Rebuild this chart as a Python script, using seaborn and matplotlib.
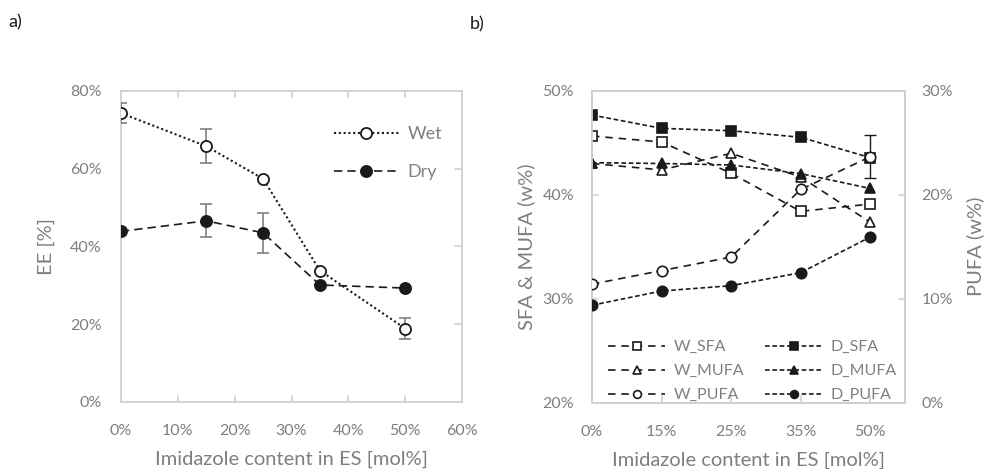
import numpy as np
import matplotlib
matplotlib.use("Agg")
import matplotlib.pyplot as plt
from matplotlib.ticker import PercentFormatter
import seaborn as sns

# ---- data ----
# panel a: encapsulation efficiency vs imidazole content
imidazole = [0.0, 0.15, 0.25, 0.35, 0.50]
ee_wet = [0.743, 0.658, 0.574, 0.338, 0.189]
ee_wet_err = [0.025, 0.043, 0.0, 0.0, 0.028]
ee_dry = [0.439, 0.466, 0.435, 0.301, 0.293]
ee_dry_err = [0.0, 0.042, 0.052, 0.0, 0.0]

# panel b: fatty acid profile, category axis
cats = ["0%", "15%", "25%", "35%", "50%"]
w_sfa = [0.4564, 0.4507, 0.4206, 0.3840, 0.3910]
d_sfa = [0.4766, 0.4638, 0.4615, 0.4552, 0.4356]
w_mufa = [0.4300, 0.4238, 0.4398, 0.4170, 0.3735]
d_mufa = [0.4308, 0.4300, 0.4286, 0.4203, 0.4060]
w_pufa = [0.114, 0.127, 0.140, 0.205, 0.2365]
w_pufa_err = [0.0, 0.0, 0.0, 0.0, 0.0205]
d_pufa = [0.0937, 0.1074, 0.1125, 0.125, 0.1593]

grey = "#7f7f7f"
spine = "#d0d0d0"
ink = "#1a1a1a"

sns.set_style("white")
plt.rcParams["font.family"] = ["Lato", "DejaVu Sans"]

fig = plt.figure(figsize=(9.87, 4.69), dpi=100)
ax1 = fig.add_axes([0.1226, 0.1429, 0.3455, 0.6631])
ax2 = fig.add_axes([0.5998, 0.1414, 0.3171, 0.6652])
ax3 = ax2.twinx()


def style_axes(ax):
    for s in ax.spines.values():
        s.set_color(spine)
        s.set_linewidth(1.3)
    ax.tick_params(colors=grey, labelsize=11.5, length=0)


# ---- panel a ----
style_axes(ax1)
sns.lineplot(x=imidazole, y=ee_wet, ax=ax1, color=ink, linestyle=(0, (1, 1.3)), lw=1.5,
             marker="o", markersize=8, markerfacecolor="white", markeredgecolor=ink,
             markeredgewidth=1.3, label="Wet", zorder=4)
sns.lineplot(x=imidazole, y=ee_dry, ax=ax1, color=ink, linestyle=(0, (5, 3)), lw=1.2,
             marker="o", markersize=8, markerfacecolor=ink, markeredgecolor=ink,
             markeredgewidth=1.3, label="Dry", zorder=4)
for ys, es in [(ee_wet, ee_wet_err), (ee_dry, ee_dry_err)]:
    ax1.errorbar(imidazole, ys, yerr=es, fmt="none", ecolor=grey, elinewidth=1.2,
                 capsize=4, capthick=1.2, zorder=3)
ax1.set_xlim(0, 0.6)
ax1.set_ylim(0, 0.8)
ax1.set_xticks(np.arange(0, 0.61, 0.1))
ax1.set_yticks(np.arange(0, 0.81, 0.2))
ax1.xaxis.set_major_formatter(PercentFormatter(1.0, decimals=0))
ax1.yaxis.set_major_formatter(PercentFormatter(1.0, decimals=0))
ax1.tick_params(axis="x", pad=16)
ax1.tick_params(axis="y", pad=14)
# inner tick marks like the spreadsheet original
for xv in np.arange(0.1, 0.51, 0.1):
    ax1.plot([xv, xv], [0, 0.016], color=spine, lw=1.2, zorder=1)
    ax1.plot([xv, xv], [0.8, 0.784], color=spine, lw=1.2, zorder=1)
for yv in np.arange(0.2, 0.61, 0.2):
    ax1.plot([0.588, 0.6], [yv, yv], color=spine, lw=1.2, zorder=1)
ax1.set_xlabel("Imidazole content in ES [mol%]", color=grey, fontsize=14.5, labelpad=9)
ax1.set_ylabel("EE [%]", color=grey, fontsize=14.5, labelpad=11)
leg1 = ax1.legend(loc="upper right", bbox_to_anchor=(0.99, 0.94), frameon=False,
                  fontsize=13, handlelength=3.6, labelspacing=1.25, handletextpad=0.5)
for t in leg1.get_texts():
    t.set_color(grey)

# ---- panel b ----
style_axes(ax2)
ax3.grid(False)
for s in ax3.spines.values():
    s.set_color(spine)
    s.set_linewidth(1.3)
ax3.tick_params(colors=grey, labelsize=11.5, length=0, pad=12)

pos = np.arange(len(cats))
w_dash = (0, (4.5, 3.5))
d_dash = (0, (2.8, 1.6))
series = [
    (ax2, w_sfa, "W_SFA", "s", "white", w_dash),
    (ax2, w_mufa, "W_MUFA", "^", "white", w_dash),
    (ax3, w_pufa, "W_PUFA", "o", "white", w_dash),
    (ax2, d_sfa, "D_SFA", "s", ink, d_dash),
    (ax2, d_mufa, "D_MUFA", "^", ink, d_dash),
    (ax3, d_pufa, "D_PUFA", "o", ink, d_dash),
]
handles = []
for ax, vals, name, mk, fc, ls in series:
    sns.lineplot(x=pos, y=vals, ax=ax, color=ink, linestyle=ls, lw=1.2, marker=mk,
                 markersize=7.5, markerfacecolor=fc, markeredgecolor=ink,
                 markeredgewidth=1.2, label=name, zorder=4)
    handles.append(ax.lines[-1])
ax3.errorbar(pos, w_pufa, yerr=w_pufa_err, fmt="none", ecolor=ink, elinewidth=1.0,
             capsize=4, capthick=1.0, zorder=3)
if ax2.get_legend():
    ax2.get_legend().remove()

ax2.set_xlim(0, 4.5)
ax2.set_ylim(0.2, 0.5)
ax3.set_ylim(0, 0.3)
ax2.set_xticks(pos)
ax2.set_xticklabels(cats)
ax2.set_yticks(np.arange(0.2, 0.51, 0.1))
ax3.set_yticks(np.arange(0, 0.31, 0.1))
ax2.yaxis.set_major_formatter(PercentFormatter(1.0, decimals=0))
ax3.yaxis.set_major_formatter(PercentFormatter(1.0, decimals=0))
ax2.tick_params(axis="x", pad=16)
ax2.tick_params(axis="y", pad=13)
for p in pos[1:]:
    ax2.plot([p, p], [0.2, 0.206], color=spine, lw=1.2, zorder=1)
for yv in [0.3, 0.4]:
    ax2.plot([0, 0.08], [yv, yv], color=spine, lw=1.2, zorder=1)
    ax2.plot([4.42, 4.5], [yv, yv], color=spine, lw=1.2, zorder=1)
ax2.set_xlabel("Imidazole content in ES [mol%]", color=grey, fontsize=14.5, labelpad=9)
ax2.set_ylabel("SFA & MUFA (w%)", color=grey, fontsize=14.5, labelpad=5)
ax3.set_ylabel("PUFA (w%)", color=grey, fontsize=14.5, labelpad=9)
leg2 = ax3.legend(handles=handles, labels=[h.get_label() for h in handles], ncol=2,
                  loc="lower left", bbox_to_anchor=(0.005, -0.045), frameon=False,
                  fontsize=11.5, handlelength=3.6, labelspacing=0.62, markerscale=0.75,
                  columnspacing=1.3, handletextpad=0.5)
for t in leg2.get_texts():
    t.set_color(grey)

fig.text(0.008, 0.952, "a)", fontsize=13, color=ink, va="center")
fig.text(0.476, 0.947, "b)", fontsize=13, color=ink, va="center")

fig.savefig("out.png", dpi=100)
